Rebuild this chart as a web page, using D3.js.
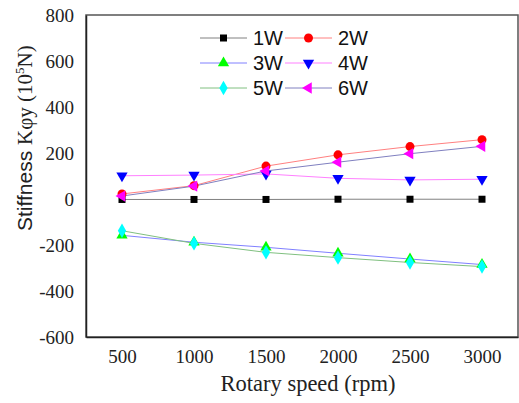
<!DOCTYPE html>
<html>
<head>
<meta charset="utf-8">
<script src="https://cdn.jsdelivr.net/npm/d3@7"></script>
<style>
  body { margin: 0; background: #fff; }
  svg { display: block; }
</style>
</head>
<body>
<svg id="chart" width="519" height="403"></svg>
<script>
// data
const speeds = [500, 1000, 1500, 2000, 2500, 3000]
const seriesNames = ['1W', '2W', '3W', '4W', '5W', '6W']
const w1 = [-2, -2, -2, -1, -1, -1]
const w2 = [22, 58, 143, 192, 228, 258]
const w3 = [-158, -188, -210, -236, -261, -285]
const w4 = [101, 104, 109, 90, 83, 86]
const w5 = [-138, -193, -232, -255, -276, -294]
const w6 = [13, 56, 122, 160, 197, 229]
const yTicks = [800, 600, 400, 200, 0, -200, -400, -600]

const values = [w1, w2, w3, w4, w5, w6]
const lineColors = ['#808080', '#ff8080', '#8080ff', '#ff80ff', '#80c080', '#8080c0']
const markColors = ['#000000', '#ff0000', '#00ff00', '#0000ff', '#00ffff', '#ff00ff']
const shapes = ['square', 'circle', 'up', 'down', 'diamond', 'left']

const SERIF = 'Liberation Serif, DejaVu Serif, serif'
const SANS = 'Liberation Sans, Arial, sans-serif'

const svg = d3.select('#chart')
const margin = {top: 15, right: 1, bottom: 66, left: 86}
const width = 519 - margin.left - margin.right
const height = 403 - margin.top - margin.bottom

const g = svg.append('g')
  .attr('transform', 'translate(' + margin.left + ',' + margin.top + ')')

const x = d3.scaleLinear().domain([250, 3250]).range([0, width])
const y = d3.scaleLinear().domain([-600, 800]).range([height, 0])

// frame
g.append('rect')
  .attr('width', width).attr('height', height)
  .attr('fill', 'none').attr('stroke', '#555').attr('stroke-width', 1.5)

// axes without tick marks, plain hyphen for negatives
const xAxis = g.append('g')
  .attr('transform', 'translate(0,' + height + ')')
  .call(d3.axisBottom(x).tickValues(speeds).tickSize(0).tickPadding(13).tickFormat(d => String(d)))
const yAxis = g.append('g')
  .call(d3.axisLeft(y).tickValues(yTicks).tickSize(0).tickPadding(12).tickFormat(d => String(d)))
;[xAxis, yAxis].forEach(a => {
  a.attr('font-family', SERIF).attr('font-size', 19)
  a.select('.domain').attr('stroke', '#222').attr('stroke-width', 1.5)
  a.selectAll('text').attr('fill', '#222')
})

function marker(sel, shape, color) {
  if (shape === 'circle') {
    sel.append('circle').attr('r', 4.5).attr('fill', color)
  } else if (shape === 'square') {
    sel.append('rect').attr('x', -3.5).attr('y', -3.5).attr('width', 7).attr('height', 7).attr('fill', color)
  } else {
    const sym = shape === 'diamond' ? d3.symbolDiamond : d3.symbolTriangle
    const rot = {up: 0, down: 180, left: -90, diamond: 0}[shape]
    sel.append('path')
      .attr('d', d3.symbol().type(sym).size(shape === 'diamond' ? 60 : 55)())
      .attr('transform', 'rotate(' + rot + ')')
      .attr('fill', color)
  }
}

const line = d3.line().x((d, i) => x(speeds[i])).y(d => y(d))

// lines first, then markers
values.forEach((vals, k) => {
  g.append('path').datum(vals)
    .attr('d', line).attr('fill', 'none')
    .attr('stroke', lineColors[k]).attr('stroke-width', 1)
})
values.forEach((vals, k) => {
  vals.forEach((v, i) => {
    const m = g.append('g').attr('transform', 'translate(' + x(speeds[i]) + ',' + y(v) + ')')
    marker(m, shapes[k], markColors[k])
  })
})

// legend
const legend = svg.append('g')
seriesNames.forEach((name, k) => {
  const col = k % 2, row = Math.floor(k / 2)
  const lx = 200 + col * 85
  const ly = 38 + row * 25
  const it = legend.append('g').attr('transform', 'translate(' + lx + ',' + ly + ')')
  it.append('line').attr('x1', 0).attr('x2', 47).attr('stroke', lineColors[k]).attr('stroke-width', 1)
  marker(it.append('g').attr('transform', 'translate(23.5,0)'), shapes[k], markColors[k])
  it.append('text').attr('x', 53).attr('y', 7)
    .attr('font-family', SANS)
    .attr('font-size', 20).attr('fill', '#111').text(name)
})

// axis titles
svg.append('text')
  .attr('x', 308).attr('y', 391)
  .attr('text-anchor', 'middle')
  .attr('font-family', SERIF)
  .attr('font-size', 22.5).attr('fill', '#222')
  .text('Rotary speed (rpm)')

const yt = svg.append('text')
  .attr('transform', 'translate(32,231) rotate(-90)')
  .attr('font-size', 21).attr('fill', '#222')
yt.append('tspan').attr('font-family', SANS).text('Stiffness ')
yt.append('tspan').attr('font-family', SERIF).text('Kφy (10')
yt.append('tspan').attr('font-family', SERIF).attr('font-size', 13).attr('dy', -8).text('5')
yt.append('tspan').attr('font-family', SERIF).attr('dy', 8).text('N)')
</script>
</body>
</html>
